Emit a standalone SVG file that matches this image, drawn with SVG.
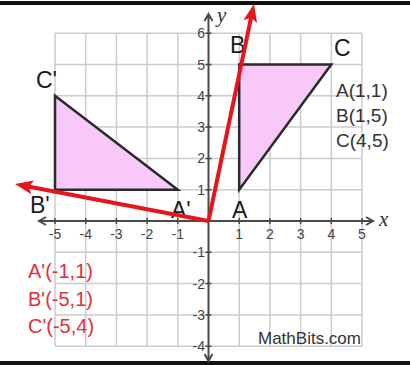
<svg xmlns="http://www.w3.org/2000/svg" width="410" height="365" viewBox="0 0 410 365">
<defs>
<style>
.grid{stroke:#cccccc;stroke-width:1.5;fill:none}
.axis{stroke:#4a4a4a;stroke-width:2;fill:none}
.tick{stroke:#4a4a4a;stroke-width:1.5}
.tl{font-family:"Liberation Sans",Arial,sans-serif;font-size:14px;fill:#444}
.tri{fill:#f8c8f8;stroke:#2a2a2a;stroke-width:2.5;stroke-linejoin:miter}
.pl{font-family:"Liberation Sans",Arial,sans-serif;font-size:23px;fill:#1a1a1a}
.co{font-family:"Liberation Sans",Arial,sans-serif;font-size:19px;fill:#333}
.rco{font-family:"Liberation Sans",Arial,sans-serif;font-size:20px;fill:#e3303a}
.ax{font-family:"Liberation Serif","Times New Roman",serif;font-style:italic;font-size:21px;fill:#333}
.ray{stroke:#e8141c;stroke-width:4;fill:none;marker-end:url(#ah)}
</style>
<marker id="ah" viewBox="0 0 18 14" refX="6" refY="7" markerWidth="18" markerHeight="14" markerUnits="userSpaceOnUse" orient="auto">
<path d="M0,0 L18,7 L0,14 L4,7 z" fill="#e8141c"/>
</marker>
</defs>
<rect x="0" y="0" width="410" height="365" fill="#ffffff"/>
<rect x="0" y="1" width="410" height="4" fill="#111"/>
<rect x="0" y="361" width="410" height="4" fill="#111"/>

<g id="grid">
<path class="grid" d="M55,33V346 M85.7,33V346 M116.4,33V346 M147.1,33V346 M177.8,33V346 M239.2,33V346 M269.9,33V346 M300.6,33V346 M331.3,33V346 M362,33V346 M55,33.2H362 M55,64.5H362 M55,95.8H362 M55,127.1H362 M55,158.4H362 M55,189.7H362 M55,252.3H362 M55,283.6H362 M55,314.9H362 M55,346.2H362"/>
</g>

<g id="axes">
<path class="axis" d="M39,221H373 M46,217L39,221L46,225 M366,217L373,221L366,225"/>
<path class="axis" d="M208.5,14V361 M204.5,21L208.5,14L212.5,21 M204.5,354L208.5,361L212.5,354"/>
<path class="tick" d="M55,218V224 M85.7,218V224 M116.4,218V224 M147.1,218V224 M177.8,218V224 M239.2,218V224 M269.9,218V224 M300.6,218V224 M331.3,218V224 M362,218V224 M205.5,33.2H211.5 M205.5,64.5H211.5 M205.5,95.8H211.5 M205.5,127.1H211.5 M205.5,158.4H211.5 M205.5,189.7H211.5 M205.5,252.3H211.5 M205.5,283.6H211.5 M205.5,314.9H211.5 M205.5,346.2H211.5"/>
<g class="tl" text-anchor="middle">
<text x="55" y="239">-5</text><text x="85.7" y="239">-4</text><text x="116.4" y="239">-3</text><text x="147.1" y="239">-2</text><text x="177.8" y="239">-1</text>
<text x="239.2" y="239">1</text><text x="269.9" y="239">2</text><text x="300.6" y="239">3</text><text x="331.3" y="239">4</text><text x="362" y="239">5</text>
</g>
<g class="tl" text-anchor="end">
<text x="205" y="38.2">6</text><text x="205" y="69.5">5</text><text x="205" y="100.8">4</text><text x="205" y="132.1">3</text><text x="205" y="163.4">2</text><text x="205" y="194.7">1</text>
<text x="205" y="257.3">-1</text><text x="205" y="288.6">-2</text><text x="205" y="319.9">-3</text><text x="205" y="351.2">-4</text>
</g>
<text class="ax" x="379" y="226">x</text>
<text class="ax" x="217" y="22">y</text>
</g>

<g id="triangle-ABC">
<polygon class="tri" points="239.2,189.7 239.2,64.5 331.3,64.5"/>
<text class="pl" x="230" y="53">B</text>
<text class="pl" x="334" y="56">C</text>
<text class="pl" x="232" y="218">A</text>
</g>

<g id="triangle-A1B1C1">
<polygon class="tri" points="177.8,189.7 55,189.7 55,95.8"/>
<text class="pl" x="36" y="88">C'</text>
<text class="pl" x="30" y="213">B'</text>
<text class="pl" x="171" y="218">A'</text>
</g>

<g id="coords-original">
<text class="co" x="336" y="97">A(1,1)</text>
<text class="co" x="336" y="122">B(1,5)</text>
<text class="co" x="336" y="147">C(4,5)</text>
</g>

<g id="coords-image">
<text class="rco" x="28" y="278">A'(-1,1)</text>
<text class="rco" x="28" y="305.5">B'(-5,1)</text>
<text class="rco" x="28" y="333">C'(-5,4)</text>
</g>

<g id="connectors">
<path class="ray" d="M208.5,221 L251.5,15.7"/>
<path class="ray" d="M208.5,221 L26.8,186.3"/>
</g>

<g id="credit">
<text x="258" y="344" font-family="'Liberation Sans',Arial,sans-serif" font-size="17" fill="#333">MathBits.com</text>
</g>
</svg>
